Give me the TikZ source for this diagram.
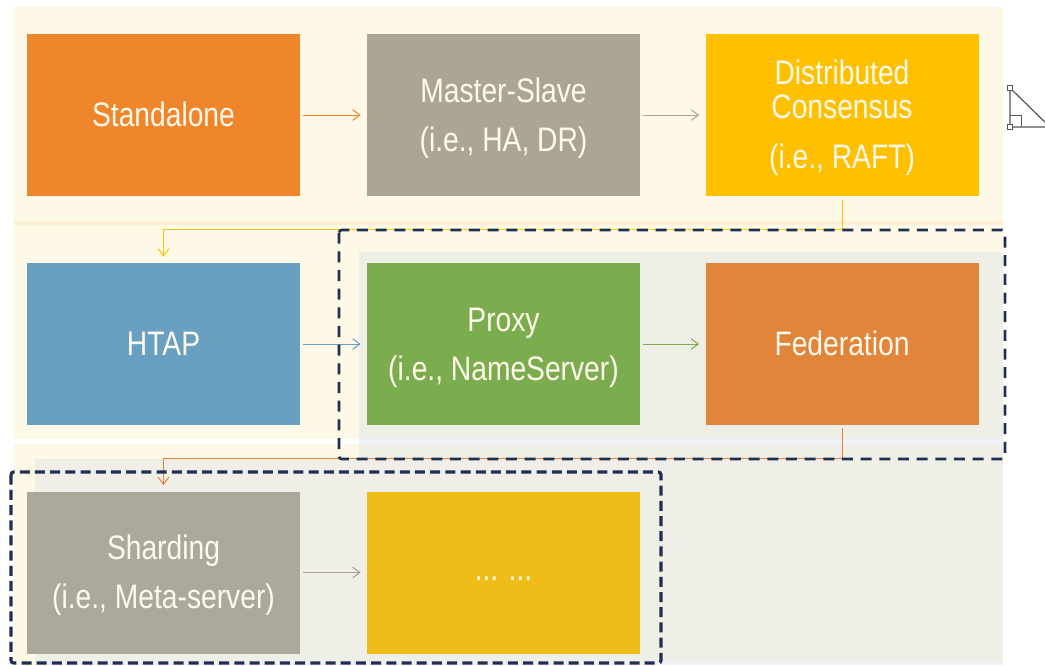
\documentclass[tikz,border=0pt]{standalone}
\usepackage{fontspec}
\newfontfamily\boxfont[FakeStretch=0.83]{Liberation Sans}
\usetikzlibrary{arrows.meta}

\definecolor{cream}{HTML}{FEF8E7}
\definecolor{creamstrip}{HTML}{FDF0D4}
\definecolor{panelgray}{HTML}{EFEFE7}
\definecolor{paleblue}{HTML}{EEF2F8}
\definecolor{navy}{HTML}{1E3050}
\definecolor{txt}{HTML}{FFF9EC}
\definecolor{cStandalone}{HTML}{F0862C}
\definecolor{cMaster}{HTML}{ADA594}
\definecolor{cRaft}{HTML}{FFC000}
\definecolor{cHtap}{HTML}{69A0C2}
\definecolor{cProxy}{HTML}{7BAC4E}
\definecolor{cFed}{HTML}{E1853B}
\definecolor{cShard}{HTML}{A6A396}
\definecolor{cMore}{HTML}{F0BC18}
\definecolor{icon}{HTML}{555555}

% extra room above the first line of a two-part label
\newcommand\stagestrut{\rule{0pt}{23pt}}

\tikzset{
  stage/.style={rectangle, inner sep=0pt, minimum width=204.75pt,
    minimum height=121.5pt, text=txt, align=center,
    font=\boxfont\fontsize{25.5}{25.5}\selectfont},
  flow/.style={line width=0.75pt, -{Straight Barb[length=5.5pt,width=8pt]},
    shorten <=2.25pt, shorten >=4.5pt},
  groupbox/.style={draw=navy, rounded corners=2pt},
}

\begin{document}
\begin{tikzpicture}[x=0.75pt, y=-0.75pt]
\useasboundingbox (0,0) rectangle (1045,665);

% background bands
\fill[cream] (14,7) rectangle (1003,221);
\fill[creamstrip] (14,221) rectangle (1003,225);
\fill[cream] (14,225) rectangle (1003,439);
\fill[cream] (14,444) rectangle (1003,665);
\fill[panelgray] (359,252) rectangle (1003,439);
\fill[paleblue] (359,439) rectangle (1003,444);
\fill[panelgray] (359,444) rectangle (1003,459);
\fill[panelgray] (35,459) rectangle (1003,662);
\fill[paleblue] (35,662) rectangle (1003,665);

% stages
\node[stage, fill=cStandalone] (sa) at (163.5,115) {\raisebox{1pt}{Standalone}};
\node[stage, fill=cMaster] (ms) at (503.5,115) {\stagestrut Master-Slave\\[11.5pt](i.e., HA, DR)};
\node[stage, fill=cRaft] (dc) at (842,115) {\stagestrut Distributed\\Consensus\\[12pt](i.e., RAFT)};
\node[stage, fill=cHtap] (htap) at (163.5,344) {\raisebox{1pt}{HTAP}};
\node[stage, fill=cProxy] (px) at (503.5,344) {\stagestrut Proxy\\[11.5pt](i.e., NameServer)};
\node[stage, fill=cFed] (fed) at (842,344) {\raisebox{1pt}{Federation}};
\node[stage, fill=cShard, fill opacity=0.92, text opacity=1] (sh) at (163.5,572.5) {\stagestrut Sharding\\[11.5pt](i.e., Meta-server)};
\node[stage, fill=cMore] (more) at (503.5,572.5) {\raisebox{-6pt}[0pt][0pt]{... ...}};

% bends of the row-to-row connectors
\coordinate (k1) at (842,229);
\coordinate (k2) at (842,458);

% connectors
\draw[flow, cStandalone] (sa.east) -- (ms.west);
\draw[flow, cMaster] (ms.east) -- (dc.west);
\draw[flow, cRaft, shorten <=3pt] (dc.south) -- (k1) -| (htap.north);
\draw[flow, cHtap] (htap.east) -- (px.west);
\draw[flow, cProxy] (px.east) -- (fed.west);
\draw[flow, cFed, shorten <=2.25pt] (fed.south) -- (k2) -| (sh.north);
\draw[flow, cShard] (sh.east) -- (more.west);

% dashed groups
\draw[groupbox, line width=2pt, dash pattern=on 8.25pt off 5.75pt] (339,230) rectangle (1005,459);
\draw[groupbox, line width=2.4pt, dash pattern=on 7.5pt off 3.9pt] (11,472) rectangle (661,663);

% right-triangle icon at the edge
\begin{scope}
\clip (0,0) rectangle (1045,665);
\draw[icon, line width=0.9pt] (1010,88) -- (1010,127) -- (1050,127) -- cycle;
\draw[icon, line width=0.75pt] (1010,115) -- (1021,115) -- (1021,127);
\draw[icon, fill=white, line width=0.6pt] (1007.5,85.5) rectangle (1012.5,90.5);
\draw[icon, fill=white, line width=0.6pt] (1007.5,124.5) rectangle (1012.5,129.5);
\end{scope}
\end{tikzpicture}
\end{document}
